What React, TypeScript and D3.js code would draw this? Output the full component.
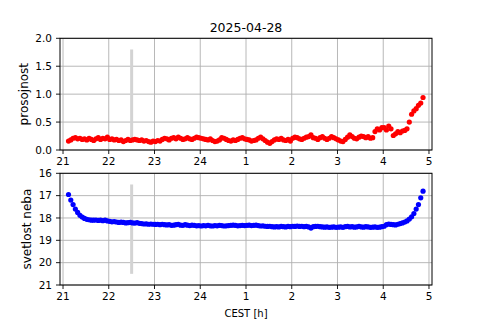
import * as d3 from 'd3'

// meritve vsake 3 minute, od 21:07 CEST naprej (ure > 24 so po polnoci)
const startHour = 21.12
const stepHours = 0.05

const prosojnost = [
  0.16, 0.18, 0.21, 0.22, 0.20, 0.21, 0.19, 0.20, 0.18, 0.21, 0.19, 0.17, 0.20, 0.22, 0.19, 0.21, 0.20, 0.23,
  0.19, 0.20, 0.18, 0.19, 0.17, 0.18, 0.15, 0.17, 0.19, 0.17, 0.18, 0.19, 0.18, 0.17, 0.18, 0.16, 0.17, 0.15, 0.14, 0.16,
  0.15, 0.17, 0.16, 0.19, 0.21, 0.20, 0.18, 0.21, 0.22, 0.20, 0.23, 0.21, 0.19, 0.20, 0.22, 0.20, 0.19, 0.21, 0.23, 0.22,
  0.21, 0.20, 0.19, 0.18, 0.20, 0.17, 0.15, 0.16, 0.18, 0.22, 0.21, 0.19, 0.17, 0.16, 0.18, 0.17, 0.19, 0.21, 0.22, 0.20,
  0.19, 0.18, 0.16, 0.17, 0.18, 0.21, 0.23, 0.20, 0.17, 0.14, 0.12, 0.15, 0.18, 0.20, 0.19, 0.21, 0.18, 0.17, 0.19, 0.16,
  0.21, 0.23, 0.22, 0.20, 0.19, 0.21, 0.23, 0.24, 0.27, 0.22, 0.21, 0.19, 0.22, 0.24, 0.21, 0.19, 0.21, 0.24, 0.22, 0.20,
  0.18, 0.16, 0.15, 0.19, 0.23, 0.27, 0.24, 0.21, 0.20, 0.23, 0.25, 0.24, 0.22, 0.24, 0.21, 0.22, 0.33, 0.38, 0.36, 0.40,
  0.40, 0.36, 0.43, 0.38, 0.26, 0.29, 0.33, 0.31, 0.34, 0.35, 0.38, 0.50, 0.64, 0.70, 0.74, 0.80, 0.84, 0.94
]

const svetlost = [
  16.95, 17.2, 17.4, 17.6, 17.75, 17.88, 17.96, 18.02, 18.06, 18.08, 18.1, 18.1, 18.09, 18.11, 18.1, 18.12, 18.1, 18.13,
  18.15, 18.17, 18.16, 18.18, 18.2, 18.19, 18.2, 18.22, 18.21, 18.2, 18.22, 18.23, 18.21, 18.24, 18.25, 18.27, 18.26, 18.28, 18.27, 18.28,
  18.29, 18.28, 18.3, 18.28, 18.3, 18.31, 18.3, 18.33, 18.32, 18.3, 18.28, 18.32, 18.33, 18.3, 18.32, 18.34, 18.32, 18.33, 18.35, 18.34,
  18.36, 18.34, 18.35, 18.33, 18.35, 18.36, 18.34, 18.35, 18.33, 18.34, 18.36, 18.35, 18.34, 18.33, 18.32, 18.33, 18.35, 18.34, 18.33, 18.34,
  18.33, 18.32, 18.34, 18.33, 18.32, 18.34, 18.36, 18.35, 18.37, 18.38, 18.37, 18.39, 18.4, 18.39, 18.4, 18.38, 18.39, 18.4, 18.38, 18.39,
  18.37, 18.38, 18.36, 18.38, 18.37, 18.39, 18.38, 18.4, 18.45, 18.39, 18.38, 18.37, 18.39, 18.4, 18.41, 18.4, 18.42, 18.41, 18.4, 18.42,
  18.41, 18.4, 18.42, 18.39, 18.38, 18.4, 18.39, 18.41, 18.4, 18.38, 18.4, 18.41, 18.39, 18.4, 18.42, 18.41, 18.4, 18.42, 18.41, 18.39,
  18.37, 18.3, 18.27, 18.29, 18.3, 18.31, 18.28, 18.25, 18.22, 18.18, 18.13, 18.05, 17.95, 17.8, 17.6, 17.4, 17.1, 16.8
]

const hourTicks = [21, 22, 23, 24, 25, 26, 27, 28, 29]
const hourLabels = ['21', '22', '23', '24', '1', '2', '3', '4', '5']
const prosojnostTicks = [0, 0.5, 1.0, 1.5, 2.0]
const svetlostTicks = [16, 17, 18, 19, 20, 21]

// siva navpicna crta (oznaka)
const markerHour = 22.5
const markerTop = [0.2, 1.8]
const markerBottom = [16.5, 20.5]

const font = 'DejaVu Sans, sans-serif'
const gridColor = '#b0b0b0'

const x = d3.scaleLinear().domain([20.934, 29.066]).range([60, 432])

function Panel({ y, values, ticks, fmt, color, label, labelX, marker, xLabels }) {
  const [y0, y1] = y.range()
  const top = Math.min(y0, y1)
  const bottom = Math.max(y0, y1)
  return (
    <g>
      {hourTicks.map(h => (
        <line key={'gx' + h} x1={x(h)} x2={x(h)} y1={top} y2={bottom} stroke={gridColor} strokeWidth={0.9} />
      ))}
      {ticks.map(t => (
        <line key={'gy' + t} x1={60} x2={432} y1={y(t)} y2={y(t)} stroke={gridColor} strokeWidth={0.9} />
      ))}
      <line x1={x(markerHour)} x2={x(markerHour)} y1={y(marker[0])} y2={y(marker[1])} stroke="#d3d3d3" strokeWidth={3} />
      {values.map((v, i) => (
        <circle key={i} cx={x(startHour + i * stepHours)} cy={y(v)} r={2.6} fill={color} />
      ))}
      <rect x={60} y={top} width={372} height={bottom - top} fill="none" stroke="#000" strokeWidth={1} />
      {hourTicks.map((h, i) => (
        <g key={'tx' + h}>
          <line x1={x(h)} x2={x(h)} y1={bottom} y2={bottom + 4} stroke="#000" strokeWidth={0.9} />
          {xLabels && (
            <text x={x(h)} y={bottom + 11} dy="0.35em" textAnchor="middle" fontSize={10.5} fontFamily={font}>
              {hourLabels[i]}
            </text>
          )}
        </g>
      ))}
      {ticks.map(t => (
        <g key={'ty' + t}>
          <line x1={56} x2={60} y1={y(t)} y2={y(t)} stroke="#000" strokeWidth={0.9} />
          <text x={52} y={y(t)} dy="0.35em" textAnchor="end" fontSize={10.5} fontFamily={font}>
            {fmt(t)}
          </text>
        </g>
      ))}
      <text
        transform={`translate(${labelX}, ${(top + bottom) / 2}) rotate(-90)`}
        textAnchor="middle"
        dy="0.35em"
        fontSize={12}
        fontFamily={font}
      >
        {label}
      </text>
    </g>
  )
}

export default function App() {
  const yTop = d3.scaleLinear().domain([0, 2]).range([150, 38.3])
  const yBottom = d3.scaleLinear().domain([16, 21]).range([173.3, 285])

  return (
    <svg width={480} height={320} style={{ position: 'absolute', left: 0, top: 0, background: '#fff' }}>
      <text x={246} y={28} dy="0.35em" textAnchor="middle" fontSize={12.5} fontFamily={font}>
        2025-04-28
      </text>
      <Panel
        y={yTop}
        values={prosojnost}
        ticks={prosojnostTicks}
        fmt={d3.format('.1f')}
        color="#ff0000"
        label="prosojnost"
        labelX={24}
        marker={markerTop}
        xLabels={true}
      />
      <Panel
        y={yBottom}
        values={svetlost}
        ticks={svetlostTicks}
        fmt={d3.format('d')}
        color="#0000ff"
        label="svetlost neba"
        labelX={27}
        marker={markerBottom}
        xLabels={true}
      />
      <text x={246} y={313} dy="0.35em" textAnchor="middle" fontSize={10} fontFamily={font}>
        CEST [h]
      </text>
    </svg>
  )
}
